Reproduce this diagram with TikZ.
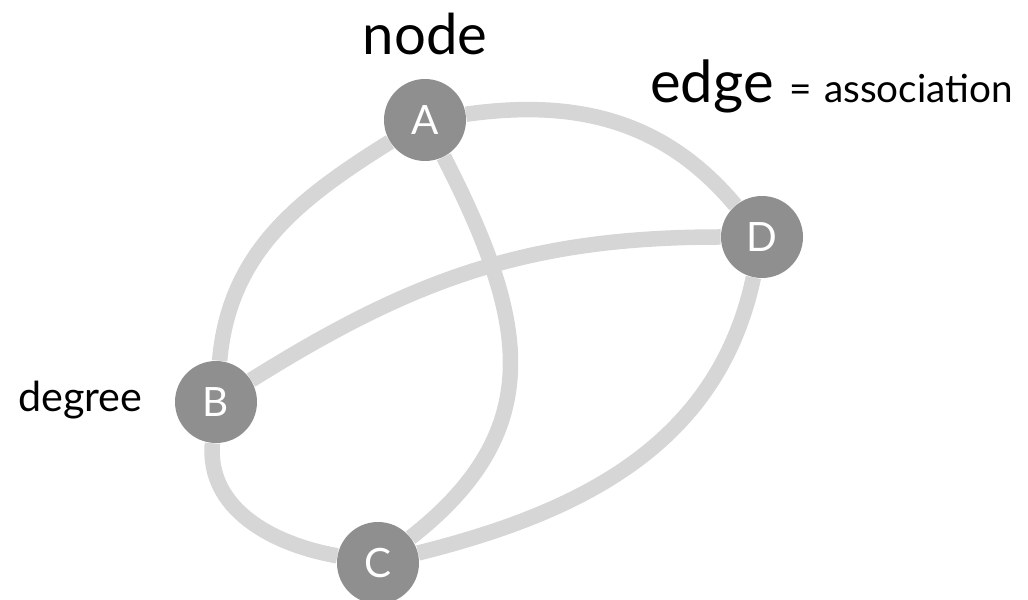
\documentclass[tikz,border=0pt]{standalone}
\usepackage{fontspec}
\setmainfont{Lato}
\usetikzlibrary{backgrounds}
\definecolor{cNode}{RGB}{143,143,143}
\definecolor{cEdge}{RGB}{214,214,214}

\begin{document}
\begin{tikzpicture}

%% -- shared styles --------------------------------------------------------
\tikzset{
  vert/.style={
    circle, minimum size=1.64cm, inner sep=0pt,
    fill=cNode, text=white, font=\fontsize{23}{23}\selectfont
  },
  link/.style={draw=cEdge, line width=0.31cm},
  lbl/.style={anchor=base west, text=black, inner sep=0pt},
}

\useasboundingbox (0,0) rectangle (20.56,11.98);

%% -- vertices -------------------------------------------------------------
\node[vert] (A) at (8.50, 9.58) {A};
\node[vert] (D) at (15.24,7.24) {D};
\node[vert] (B) at (4.32, 3.94) {B};
\node[vert] (C) at (7.56, 0.72) {C};

%% -- edges (behind the vertices) ------------------------------------------
\begin{scope}[on background layer]
\draw[link] (A) to[out=8,  in=130] (D);
\draw[link] (A) to[out=212,in=85]  (B);
\draw[link] (A) to[out=-63,in=38, looseness=1.2] (C);
\draw[link] (B) to[out=32, in=180] (D);
\draw[link] (B) to[out=-95,in=170] (C);
\draw[link] (C) to[out=14, in=-102] (D);
\end{scope}

%% -- labels ---------------------------------------------------------------
\node[anchor=base, inner sep=0pt, font=\fontsize{32}{32}\selectfont] (lnode)
  at (8.50,10.88) {node};
\node[lbl] (ledge) at (13.0,9.92)
  {{\fontsize{33}{33}\selectfont edge}\hspace{9pt}{\fontsize{22}{22}\selectfont =\hspace{7pt}association}};
\node[lbl, font=\fontsize{23.5}{23.5}\selectfont] (ldeg) at (0.36,3.74) {degree};

\end{tikzpicture}
\end{document}
